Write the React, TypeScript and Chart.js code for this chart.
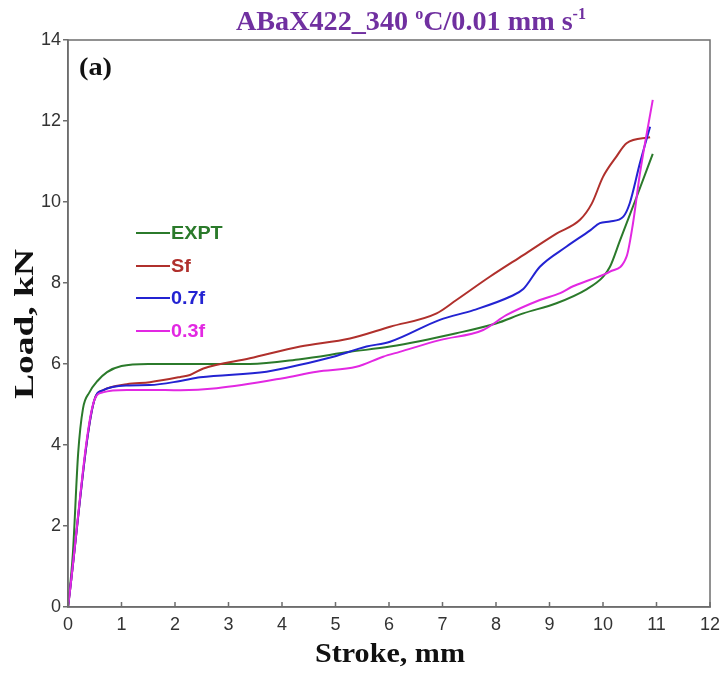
import React, { useEffect, useRef } from "react";
import { Chart, registerables } from "chart.js";

Chart.register(...registerables);

// ---------- data ----------
const seriesNames = ["EXPT", "Sf", "0.7f", "0.3f"];
const seriesColors = ["#2b7a2b", "#b0302c", "#2323d2", "#e228e2"];

const exptX = [0, 0.09, 0.19, 0.28, 0.4, 0.55, 0.73, 1.0, 1.5, 2.0, 3.0, 3.4, 4.34, 5.27, 6.02, 7.26, 8.0, 8.51, 9.13, 9.7, 10.0, 10.13, 10.32, 10.63, 10.93];
const exptY = [0, 1.3, 3.8, 4.9, 5.3, 5.58, 5.8, 5.95, 6.0, 6.0, 6.0, 6.0, 6.12, 6.3, 6.43, 6.76, 7.0, 7.25, 7.5, 7.85, 8.15, 8.4, 9.06, 10.13, 11.19];

const sfX = [0, 0.49, 0.65, 1.1, 1.53, 2.1, 2.28, 2.53, 3.4, 4.34, 5.27, 6.02, 6.89, 7.26, 7.89, 8.51, 9.13, 9.57, 9.79, 10.0, 10.25, 10.44, 10.88];
const sfY = [0, 5.1, 5.35, 5.5, 5.55, 5.68, 5.73, 5.89, 6.14, 6.43, 6.63, 6.92, 7.25, 7.58, 8.16, 8.69, 9.22, 9.56, 9.96, 10.62, 11.12, 11.45, 11.6];

const f07X = [0, 0.49, 0.65, 1.1, 1.53, 2.1, 2.47, 3.71, 4.34, 4.96, 5.58, 6.02, 6.95, 7.58, 8.26, 8.51, 8.82, 9.32, 9.76, 9.94, 10.13, 10.38, 10.5, 10.69, 10.88];
const f07Y = [0, 5.1, 5.35, 5.47, 5.48, 5.58, 5.67, 5.81, 5.98, 6.18, 6.43, 6.55, 7.09, 7.33, 7.66, 7.85, 8.4, 8.9, 9.3, 9.48, 9.52, 9.64, 9.97, 10.96, 11.86];

const f03X = [0, 0.49, 0.65, 1.1, 1.53, 2.1, 2.78, 4.02, 4.65, 5.39, 5.89, 6.2, 6.95, 7.76, 8.2, 8.82, 9.2, 9.44, 9.76, 10.13, 10.44, 10.56, 10.69, 10.93];
const f03Y = [0, 5.1, 5.3, 5.36, 5.36, 5.35, 5.4, 5.65, 5.81, 5.93, 6.18, 6.3, 6.59, 6.84, 7.21, 7.58, 7.75, 7.92, 8.08, 8.28, 8.65, 9.47, 10.7, 12.52];

const xTicks = [0, 1, 2, 3, 4, 5, 6, 7, 8, 9, 10, 11, 12];
const yTicks = [0, 2, 4, 6, 8, 10, 12, 14];

const titleParts = [
  { t: "ABaX422_340 ", sup: false },
  { t: "o", sup: true },
  { t: "C/0.01 mm s", sup: false },
  { t: "-1", sup: true },
];
const xTitle = "Stroke, mm";
const yTitle = "Load, kN";
const panelLabel = "(a)";

// ---------- helpers ----------
const SERIF = "'Liberation Serif', 'Times New Roman', serif";
const SANS = "'Liberation Sans', Arial, sans-serif";
const AXIS = "#6e6e6e";

function stretchText(ctx: CanvasRenderingContext2D, text: string, x: number, y: number, font: string, width: number, align: CanvasTextAlign) {
  ctx.font = font;
  const w = ctx.measureText(text).width;
  const s = width / w;
  ctx.save();
  ctx.translate(x, y);
  ctx.scale(s, 1);
  ctx.textAlign = align;
  ctx.fillText(text, 0, 0);
  ctx.restore();
}

const overlay = {
  id: "overlay",
  afterDraw(chart: any) {
    const { ctx, chartArea: a } = chart;
    ctx.save();
    // frame
    ctx.strokeStyle = AXIS;
    ctx.lineWidth = 1.5;
    ctx.strokeRect(a.left, a.top, a.right - a.left, a.bottom - a.top);
    // inner x ticks
    const xs = chart.scales.x;
    ctx.beginPath();
    for (const t of xTicks) {
      const px = xs.getPixelForValue(t);
      ctx.moveTo(px, a.bottom);
      ctx.lineTo(px, a.bottom - 5);
    }
    ctx.stroke();

    // title
    const bigFont = `bold 28px ${SERIF}`;
    const supFont = `bold 16px ${SERIF}`;
    let total = 0;
    for (const p of titleParts) {
      ctx.font = p.sup ? supFont : bigFont;
      total += ctx.measureText(p.t).width;
    }
    const tLeft = 236, tWidth = 350, tBase = 30;
    const sc = tWidth / total;
    ctx.save();
    ctx.translate(tLeft, tBase);
    ctx.scale(sc, 1);
    ctx.fillStyle = "#7030a0";
    ctx.textBaseline = "alphabetic";
    ctx.textAlign = "left";
    let cx = 0;
    for (const p of titleParts) {
      ctx.font = p.sup ? supFont : bigFont;
      ctx.fillText(p.t, cx, p.sup ? -11 : 0);
      cx += ctx.measureText(p.t).width;
    }
    ctx.restore();

    // axis titles
    ctx.fillStyle = "#111";
    ctx.textBaseline = "middle";
    stretchText(ctx, xTitle, 390, 655, `bold 27px ${SERIF}`, 150, "center");
    ctx.save();
    ctx.translate(26, 324);
    ctx.rotate(-Math.PI / 2);
    stretchText(ctx, yTitle, 0, 0, `bold 27px ${SERIF}`, 150, "center");
    ctx.restore();

    // panel label
    ctx.textBaseline = "middle";
    stretchText(ctx, panelLabel, 79, 68, `bold 26px ${SERIF}`, 33, "left");

    // legend
    const ly = [233, 266, 298, 331];
    ctx.lineWidth = 2;
    seriesNames.forEach((n, i) => {
      ctx.strokeStyle = seriesColors[i];
      ctx.beginPath();
      ctx.moveTo(136, ly[i]);
      ctx.lineTo(170, ly[i]);
      ctx.stroke();
      ctx.fillStyle = seriesColors[i];
      ctx.textBaseline = "middle";
      ctx.font = `bold 18px ${SANS}`;
      const w = ctx.measureText(n).width;
      stretchText(ctx, n, 171, ly[i] + 1, `bold 18px ${SANS}`, w * 1.1, "left");
    });
    ctx.restore();
  },
};

function pts(xs: number[], ys: number[]) {
  return xs.map((x, i) => ({ x, y: ys[i] }));
}

export default function App() {
  const ref = useRef<HTMLCanvasElement | null>(null);
  useEffect(() => {
    if (!ref.current) return;
    const sets = [
      pts(exptX, exptY),
      pts(sfX, sfY),
      pts(f07X, f07Y),
      pts(f03X, f03Y),
    ];
    const chart = new Chart(ref.current, {
      type: "line",
      data: {
        datasets: sets.map((d, i) => ({
          label: seriesNames[i],
          data: d,
          borderColor: seriesColors[i],
          backgroundColor: seriesColors[i],
          borderWidth: 2,
          pointRadius: 0,
          cubicInterpolationMode: "monotone" as const,
          fill: false,
          order: 4 - i,
        })),
      },
      options: {
        responsive: false,
        animation: false,
        events: [],
        layout: { padding: { top: 40, right: 10, left: 0, bottom: 0 } },
        plugins: { legend: { display: false }, tooltip: { enabled: false }, title: { display: false } },
        scales: {
          x: {
            type: "linear",
            min: 0,
            max: 12,
            afterBuildTicks: (s: any) => { s.ticks = xTicks.map((v) => ({ value: v })); },
            afterFit: (s: any) => { s.height = 67; s.paddingLeft = 0; s.paddingRight = 0; },
            ticks: { font: { family: SANS, size: 18 }, color: "#333", padding: 7, autoSkip: false, maxRotation: 0 },
            grid: { display: false, drawTicks: false },
            border: { display: true, color: AXIS, width: 1.5 },
          },
          y: {
            type: "linear",
            min: 0,
            max: 14,
            afterBuildTicks: (s: any) => { s.ticks = yTicks.map((v) => ({ value: v })); },
            afterFit: (s: any) => { s.width = 68; s.paddingTop = 0; s.paddingBottom = 0; },
            ticks: { font: { family: SANS, size: 18 }, color: "#333", padding: 2 },
            grid: { display: true, drawOnChartArea: false, drawTicks: true, tickLength: 5, color: AXIS, lineWidth: 1.5 },
            border: { display: true, color: AXIS, width: 1.5 },
          },
        },
      },
      plugins: [overlay],
    });
    return () => chart.destroy();
  }, []);
  return (
    <div style={{ position: "fixed", left: 0, top: 0, width: 720, height: 674, background: "#fff" }}>
      <canvas ref={ref} width={720} height={674} />
    </div>
  );
}
